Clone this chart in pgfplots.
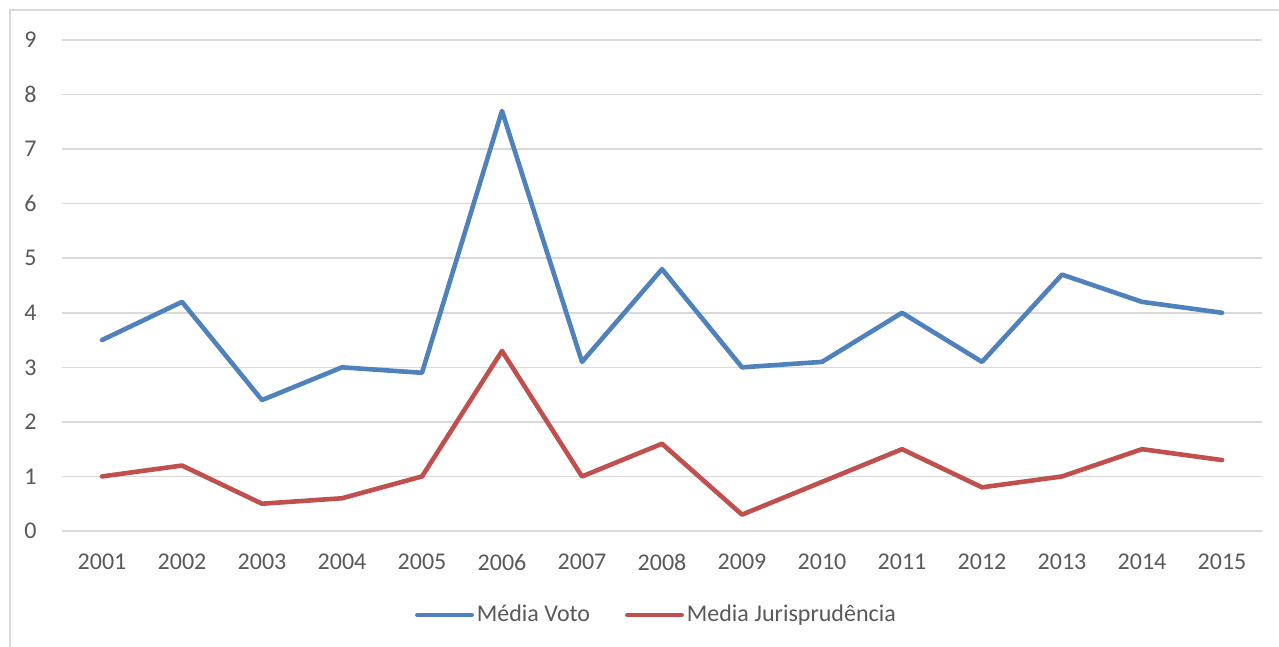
\documentclass[border=0pt]{standalone}
\usepackage{fontspec}
\setmainfont{Carlito}
\usepackage{pgfplots}
\pgfplotsset{compat=1.18}

\definecolor{txtgray}{HTML}{595959}
\definecolor{gridgray}{HTML}{D9D9D9}
\definecolor{voto}{HTML}{4F81BD}
\definecolor{juris}{HTML}{C0504D}

\begin{document}
\begin{tikzpicture}[x=1pt,y=1pt]
  % page frame and chart border
  \useasboundingbox (0,0) rectangle (639.5,323.5);
  \fill[white] (0,0) rectangle (639.5,323.5);
  \draw[gridgray, line width=0.9pt] (5,0) -- (5,318.5) -- (639.5,318.5);

  \begin{axis}[
    at={(31pt,58pt)}, anchor=south west,
    scale only axis,
    width=600pt, height=245.5pt,
    xmin=0.5, xmax=15.5,
    ymin=0, ymax=9,
    xtick={1,...,15},
    xticklabels={2001,2002,2003,2004,2005,2006,2007,2008,2009,2010,2011,2012,2013,2014,2015},
    ytick={0,...,9},
    axis line style={draw=none},
    axis x line*=bottom,
    axis y line*=left,
    major tick length=0pt,
    ymajorgrids,
    grid style={gridgray, line width=0.8pt},
    extra y ticks={0},
    extra y tick labels={},
    extra y tick style={grid style={gridgray, line width=1pt}},
    /pgf/number format/assume math mode=true,
    tick label style={font=\fontsize{12}{14}\selectfont, text=txtgray, inner sep=0pt},
    yticklabel style={xshift=-12.5pt},
    xticklabel style={yshift=-11.5pt},
    legend style={draw=none, fill=none, at={(0.4958,-0.171)}, anchor=center,
      font=\fontsize{12}{14}\selectfont, text=txtgray,
      /tikz/every even column/.append style={column sep=16pt},
      nodes={inner sep=1.5pt}},
    legend columns=2,
    legend image code/.code={\draw[#1, line width=2.4pt, line cap=round] (0pt,0pt) -- (27pt,0pt);},
    every axis plot/.append style={line width=2.3pt, line join=round, line cap=round},
  ]
    \addplot[voto] coordinates {
      (1,3.5) (2,4.2) (3,2.4) (4,3.0) (5,2.9) (6,7.7) (7,3.1) (8,4.8)
      (9,3.0) (10,3.1) (11,4.0) (12,3.1) (13,4.7) (14,4.2) (15,4.0)};
    \addlegendentry{Média Voto}
    \addplot[juris] coordinates {
      (1,1.0) (2,1.2) (3,0.5) (4,0.6) (5,1.0) (6,3.3) (7,1.0) (8,1.6)
      (9,0.3) (10,0.9) (11,1.5) (12,0.8) (13,1.0) (14,1.5) (15,1.3)};
    \addlegendentry{Media Jurisprudência}
  \end{axis}
\end{tikzpicture}
\end{document}
